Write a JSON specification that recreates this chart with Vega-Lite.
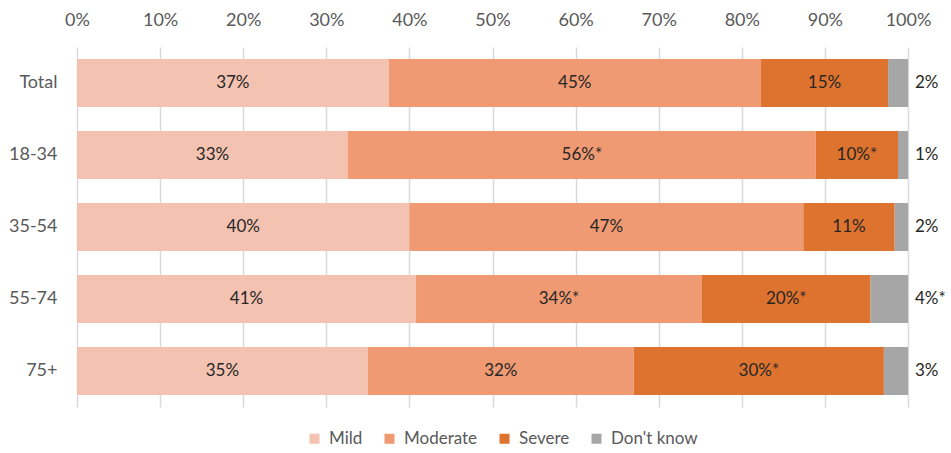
{
  "$schema": "https://vega.github.io/schema/vega-lite/v6.json",
  "width": 831,
  "height": 360,
  "autosize": {"type": "none"},
  "padding": {"left": 77, "top": 47, "right": 43, "bottom": 46},
  "config": {
    "font": "Lato",
    "view": {"stroke": null},
    "axis": {"labelFont": "Lato", "labelFontSize": 18, "labelColor": "#595959"}
  },
  "data": {
    "values": [
      {"group": "Total", "cat": "Mild", "ord": 1, "value": 37.5, "label": "37%"},
      {"group": "Total", "cat": "Moderate", "ord": 2, "value": 44.8, "label": "45%"},
      {"group": "Total", "cat": "Severe", "ord": 3, "value": 15.3, "label": "15%"},
      {"group": "Total", "cat": "Don't know", "ord": 4, "value": 2.4, "label": "2%"},
      {"group": "18-34", "cat": "Mild", "ord": 1, "value": 32.6, "label": "33%"},
      {"group": "18-34", "cat": "Moderate", "ord": 2, "value": 56.3, "label": "56%*"},
      {"group": "18-34", "cat": "Severe", "ord": 3, "value": 9.9, "label": "10%*"},
      {"group": "18-34", "cat": "Don't know", "ord": 4, "value": 1.2, "label": "1%"},
      {"group": "35-54", "cat": "Mild", "ord": 1, "value": 40.0, "label": "40%"},
      {"group": "35-54", "cat": "Moderate", "ord": 2, "value": 47.4, "label": "47%"},
      {"group": "35-54", "cat": "Severe", "ord": 3, "value": 11.0, "label": "11%"},
      {"group": "35-54", "cat": "Don't know", "ord": 4, "value": 1.6, "label": "2%"},
      {"group": "55-74", "cat": "Mild", "ord": 1, "value": 40.8, "label": "41%"},
      {"group": "55-74", "cat": "Moderate", "ord": 2, "value": 34.4, "label": "34%*"},
      {"group": "55-74", "cat": "Severe", "ord": 3, "value": 20.3, "label": "20%*"},
      {"group": "55-74", "cat": "Don't know", "ord": 4, "value": 4.5, "label": "4%*"},
      {"group": "75+", "cat": "Mild", "ord": 1, "value": 35.0, "label": "35%"},
      {"group": "75+", "cat": "Moderate", "ord": 2, "value": 32.0, "label": "32%"},
      {"group": "75+", "cat": "Severe", "ord": 3, "value": 30.1, "label": "30%*"},
      {"group": "75+", "cat": "Don't know", "ord": 4, "value": 2.9, "label": "3%"}
    ]
  },
  "encoding": {
    "y": {
      "field": "group",
      "type": "nominal",
      "sort": null,
      "scale": {"paddingInner": 0.333, "paddingOuter": 0.1667},
      "axis": {"title": null, "domain": false, "ticks": false, "tickSize": 0, "labelPadding": 20}
    }
  },
  "layer": [
    {
      "mark": {"type": "bar"},
      "encoding": {
        "x": {
          "field": "value",
          "type": "quantitative",
          "stack": "zero",
          "scale": {"domain": [0, 100], "nice": false},
          "axis": {
            "orient": "top",
            "title": null,
            "values": [0, 10, 20, 30, 40, 50, 60, 70, 80, 90, 100],
            "labelExpr": "datum.value + '%'",
            "labelFlush": false,
            "labelOverlap": false,
            "domain": false,
            "ticks": false,
            "tickSize": 0,
            "labelPadding": 18,
            "grid": true,
            "gridColor": "#D9D9D9",
            "gridWidth": 1.5
          }
        },
        "color": {
          "field": "cat",
          "type": "nominal",
          "scale": {
            "domain": ["Mild", "Moderate", "Severe", "Don't know"],
            "range": ["#F4C2B0", "#EF9A72", "#DE732F", "#A6A6A6"]
          },
          "legend": {
            "orient": "none",
            "legendX": 229,
            "legendY": 383,
            "direction": "horizontal",
            "title": null,
            "symbolType": "square",
            "symbolSize": 100,
            "symbolStrokeWidth": 0,
            "symbolOffset": 0,
            "labelOffset": 6,
            "labelFontSize": 17,
            "labelColor": "#595959",
            "labelFont": "Lato",
            "columnPadding": 18
          }
        },
        "order": {"field": "ord", "type": "quantitative"}
      }
    },
    {
      "transform": [{"filter": "datum.cat !== \"Don't know\""}],
      "mark": {"type": "text", "fontSize": 17, "color": "#262626", "baseline": "middle"},
      "encoding": {
        "x": {"field": "value", "type": "quantitative", "stack": "zero", "bandPosition": 0.5},
        "detail": {"field": "cat", "type": "nominal"},
        "order": {"field": "ord", "type": "quantitative"},
        "text": {"field": "label", "type": "nominal"}
      }
    },
    {
      "transform": [{"filter": "datum.cat === \"Don't know\""}],
      "mark": {"type": "text", "fontSize": 17, "color": "#262626", "baseline": "middle", "align": "left", "dx": 7},
      "encoding": {
        "x": {"datum": 100, "type": "quantitative"},
        "text": {"field": "label", "type": "nominal"}
      }
    }
  ]
}
